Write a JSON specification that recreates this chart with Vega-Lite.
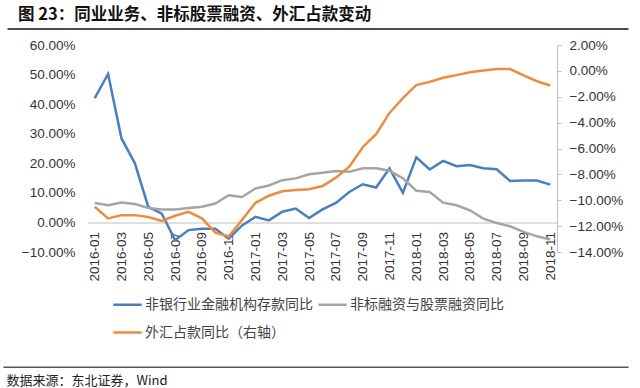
{
  "$schema": "https://vega.github.io/schema/vega-lite/v6.json",
  "width": 469,
  "height": 207,
  "autosize": "none",
  "padding": {"left": 88, "top": 45, "right": 83, "bottom": 136},
  "background": "white",
  "config": {"view": {"stroke": null}, "font": "Liberation Sans"},
  "title": {
    "text": "图 23：同业业务、非标股票融资、外汇占款变动",
    "anchor": "start",
    "frame": "group",
    "dx": -70,
    "dy": 10,
    "offset": 7,
    "baseline": "middle",
    "fontSize": 16.5,
    "fontWeight": "bold",
    "font": "Noto Sans CJK SC",
    "color": "#111111"
  },
  "data": {
    "values": [
      {"month": "2016-01", "series": "非银行业金融机构存款同比", "value": 42.0},
      {"month": "2016-02", "series": "非银行业金融机构存款同比", "value": 50.2},
      {"month": "2016-03", "series": "非银行业金融机构存款同比", "value": 28.4},
      {"month": "2016-04", "series": "非银行业金融机构存款同比", "value": 20.0},
      {"month": "2016-05", "series": "非银行业金融机构存款同比", "value": 5.3},
      {"month": "2016-06", "series": "非银行业金融机构存款同比", "value": 3.0},
      {"month": "2016-07", "series": "非银行业金融机构存款同比", "value": -6.0},
      {"month": "2016-08", "series": "非银行业金融机构存款同比", "value": -2.6},
      {"month": "2016-09", "series": "非银行业金融机构存款同比", "value": -2.1},
      {"month": "2016-10", "series": "非银行业金融机构存款同比", "value": -2.1},
      {"month": "2016-11", "series": "非银行业金融机构存款同比", "value": -5.5},
      {"month": "2016-12", "series": "非银行业金融机构存款同比", "value": -1.0},
      {"month": "2017-01", "series": "非银行业金融机构存款同比", "value": 1.9},
      {"month": "2017-02", "series": "非银行业金融机构存款同比", "value": 0.7},
      {"month": "2017-03", "series": "非银行业金融机构存款同比", "value": 3.6},
      {"month": "2017-04", "series": "非银行业金融机构存款同比", "value": 4.7},
      {"month": "2017-05", "series": "非银行业金融机构存款同比", "value": 1.5},
      {"month": "2017-06", "series": "非银行业金融机构存款同比", "value": 4.4},
      {"month": "2017-07", "series": "非银行业金融机构存款同比", "value": 6.6},
      {"month": "2017-08", "series": "非银行业金融机构存款同比", "value": 10.3},
      {"month": "2017-09", "series": "非银行业金融机构存款同比", "value": 12.9},
      {"month": "2017-10", "series": "非银行业金融机构存款同比", "value": 11.8},
      {"month": "2017-11", "series": "非银行业金融机构存款同比", "value": 18.3},
      {"month": "2017-12", "series": "非银行业金融机构存款同比", "value": 10.0},
      {"month": "2018-01", "series": "非银行业金融机构存款同比", "value": 22.0},
      {"month": "2018-02", "series": "非银行业金融机构存款同比", "value": 17.9},
      {"month": "2018-03", "series": "非银行业金融机构存款同比", "value": 20.8},
      {"month": "2018-04", "series": "非银行业金融机构存款同比", "value": 19.0},
      {"month": "2018-05", "series": "非银行业金融机构存款同比", "value": 19.4},
      {"month": "2018-06", "series": "非银行业金融机构存款同比", "value": 18.3},
      {"month": "2018-07", "series": "非银行业金融机构存款同比", "value": 18.0},
      {"month": "2018-08", "series": "非银行业金融机构存款同比", "value": 14.0},
      {"month": "2018-09", "series": "非银行业金融机构存款同比", "value": 14.2},
      {"month": "2018-10", "series": "非银行业金融机构存款同比", "value": 14.2},
      {"month": "2018-11", "series": "非银行业金融机构存款同比", "value": 12.8},
      {"month": "2016-01", "series": "非标融资与股票融资同比", "value": 6.6},
      {"month": "2016-02", "series": "非标融资与股票融资同比", "value": 5.8},
      {"month": "2016-03", "series": "非标融资与股票融资同比", "value": 6.7},
      {"month": "2016-04", "series": "非标融资与股票融资同比", "value": 6.2},
      {"month": "2016-05", "series": "非标融资与股票融资同比", "value": 4.9},
      {"month": "2016-06", "series": "非标融资与股票融资同比", "value": 4.4},
      {"month": "2016-07", "series": "非标融资与股票融资同比", "value": 4.4},
      {"month": "2016-08", "series": "非标融资与股票融资同比", "value": 4.9},
      {"month": "2016-09", "series": "非标融资与股票融资同比", "value": 5.3},
      {"month": "2016-10", "series": "非标融资与股票融资同比", "value": 6.4},
      {"month": "2016-11", "series": "非标融资与股票融资同比", "value": 9.2},
      {"month": "2016-12", "series": "非标融资与股票融资同比", "value": 8.6},
      {"month": "2017-01", "series": "非标融资与股票融资同比", "value": 11.5},
      {"month": "2017-02", "series": "非标融资与股票融资同比", "value": 12.5},
      {"month": "2017-03", "series": "非标融资与股票融资同比", "value": 14.3},
      {"month": "2017-04", "series": "非标融资与股票融资同比", "value": 14.9},
      {"month": "2017-05", "series": "非标融资与股票融资同比", "value": 16.3},
      {"month": "2017-06", "series": "非标融资与股票融资同比", "value": 16.8},
      {"month": "2017-07", "series": "非标融资与股票融资同比", "value": 17.4},
      {"month": "2017-08", "series": "非标融资与股票融资同比", "value": 17.1},
      {"month": "2017-09", "series": "非标融资与股票融资同比", "value": 18.3},
      {"month": "2017-10", "series": "非标融资与股票融资同比", "value": 18.3},
      {"month": "2017-11", "series": "非标融资与股票融资同比", "value": 17.5},
      {"month": "2017-12", "series": "非标融资与股票融资同比", "value": 14.9},
      {"month": "2018-01", "series": "非标融资与股票融资同比", "value": 10.7},
      {"month": "2018-02", "series": "非标融资与股票融资同比", "value": 10.3},
      {"month": "2018-03", "series": "非标融资与股票融资同比", "value": 6.7},
      {"month": "2018-04", "series": "非标融资与股票融资同比", "value": 5.8},
      {"month": "2018-05", "series": "非标融资与股票融资同比", "value": 4.1},
      {"month": "2018-06", "series": "非标融资与股票融资同比", "value": 1.3},
      {"month": "2018-07", "series": "非标融资与股票融资同比", "value": -0.2},
      {"month": "2018-08", "series": "非标融资与股票融资同比", "value": -1.3},
      {"month": "2018-09", "series": "非标融资与股票融资同比", "value": -3.2},
      {"month": "2018-10", "series": "非标融资与股票融资同比", "value": -4.7},
      {"month": "2018-11", "series": "非标融资与股票融资同比", "value": -5.8},
      {"month": "2016-01", "series": "外汇占款同比（右轴）", "value": -10.5},
      {"month": "2016-02", "series": "外汇占款同比（右轴）", "value": -11.4},
      {"month": "2016-03", "series": "外汇占款同比（右轴）", "value": -11.15},
      {"month": "2016-04", "series": "外汇占款同比（右轴）", "value": -11.15},
      {"month": "2016-05", "series": "外汇占款同比（右轴）", "value": -11.3},
      {"month": "2016-06", "series": "外汇占款同比（右轴）", "value": -11.6},
      {"month": "2016-07", "series": "外汇占款同比（右轴）", "value": -11.2},
      {"month": "2016-08", "series": "外汇占款同比（右轴）", "value": -10.9},
      {"month": "2016-09", "series": "外汇占款同比（右轴）", "value": -11.4},
      {"month": "2016-10", "series": "外汇占款同比（右轴）", "value": -12.5},
      {"month": "2016-11", "series": "外汇占款同比（右轴）", "value": -12.8},
      {"month": "2016-12", "series": "外汇占款同比（右轴）", "value": -11.5},
      {"month": "2017-01", "series": "外汇占款同比（右轴）", "value": -10.2},
      {"month": "2017-02", "series": "外汇占款同比（右轴）", "value": -9.65},
      {"month": "2017-03", "series": "外汇占款同比（右轴）", "value": -9.3},
      {"month": "2017-04", "series": "外汇占款同比（右轴）", "value": -9.2},
      {"month": "2017-05", "series": "外汇占款同比（右轴）", "value": -9.15},
      {"month": "2017-06", "series": "外汇占款同比（右轴）", "value": -8.9},
      {"month": "2017-07", "series": "外汇占款同比（右轴）", "value": -8.25},
      {"month": "2017-08", "series": "外汇占款同比（右轴）", "value": -7.4},
      {"month": "2017-09", "series": "外汇占款同比（右轴）", "value": -5.9},
      {"month": "2017-10", "series": "外汇占款同比（右轴）", "value": -4.9},
      {"month": "2017-11", "series": "外汇占款同比（右轴）", "value": -3.25},
      {"month": "2017-12", "series": "外汇占款同比（右轴）", "value": -2.1},
      {"month": "2018-01", "series": "外汇占款同比（右轴）", "value": -1.1},
      {"month": "2018-02", "series": "外汇占款同比（右轴）", "value": -0.85},
      {"month": "2018-03", "series": "外汇占款同比（右轴）", "value": -0.53},
      {"month": "2018-04", "series": "外汇占款同比（右轴）", "value": -0.33},
      {"month": "2018-05", "series": "外汇占款同比（右轴）", "value": -0.1},
      {"month": "2018-06", "series": "外汇占款同比（右轴）", "value": 0.03},
      {"month": "2018-07", "series": "外汇占款同比（右轴）", "value": 0.14},
      {"month": "2018-08", "series": "外汇占款同比（右轴）", "value": 0.14},
      {"month": "2018-09", "series": "外汇占款同比（右轴）", "value": -0.35},
      {"month": "2018-10", "series": "外汇占款同比（右轴）", "value": -0.8},
      {"month": "2018-11", "series": "外汇占款同比（右轴）", "value": -1.13}
    ]
  },
  "layer": [
    {
      "transform": [{"filter": "datum.series !== '外汇占款同比（右轴）'"}],
      "mark": {"type": "line", "strokeWidth": 2.5},
      "encoding": {
        "x": {
          "field": "month",
          "type": "ordinal",
          "sort": null,
          "scale": {"type": "point", "padding": 0.5, "domain": ["2016-01","2016-02","2016-03","2016-04","2016-05","2016-06","2016-07","2016-08","2016-09","2016-10","2016-11","2016-12","2017-01","2017-02","2017-03","2017-04","2017-05","2017-06","2017-07","2017-08","2017-09","2017-10","2017-11","2017-12","2018-01","2018-02","2018-03","2018-04","2018-05","2018-06","2018-07","2018-08","2018-09","2018-10","2018-11"]},
          "axis": {
            "offset": -29.5,
            "values": ["2016-01","2016-03","2016-05","2016-07","2016-09","2016-11","2017-01","2017-03","2017-05","2017-07","2017-09","2017-11","2018-01","2018-03","2018-05","2018-07","2018-09","2018-11"],
            "labelAngle": -90,
            "labelFontSize": 13.5,
            "labelColor": "#333333",
            "labelPadding": 9,
            "ticks": false,
            "domainColor": "#BFBFBF",
            "domainWidth": 1,
            "grid": false,
            "title": "数据来源：东北证券，Wind",
            "titleFont": "Noto Sans CJK SC",
            "titleFontWeight": "normal",
            "titleFontSize": 13,
            "titleColor": "#222222",
            "titleX": -82,
            "titleY": 158,
            "titleAlign": "left",
            "titleBaseline": "middle",
            "titleAngle": 0
          }
        },
        "y": {
          "field": "value",
          "type": "quantitative",
          "scale": {"domain": [-10, 60], "nice": false, "zero": false},
          "axis": {
            "values": [-10, 0, 10, 20, 30, 40, 50, 60],
            "labelExpr": "format(datum.value, '.2f') + '%'",
            "domain": false,
            "ticks": false,
            "grid": false,
            "labelFontSize": 13.5,
            "labelColor": "#333333",
            "labelPadding": 13,
            "title": null
          }
        },
        "color": {
          "field": "series",
          "type": "nominal",
          "scale": {
            "domain": ["非银行业金融机构存款同比", "非标融资与股票融资同比", "外汇占款同比（右轴）"],
            "range": ["#4A7EBF", "#A5A5A5", "#EE8B3C"]
          },
          "legend": {
            "orient": "none",
            "direction": "horizontal",
            "legendX": 24,
            "legendY": 244,
            "columns": 2,
            "title": null,
            "symbolType": "stroke",
            "symbolSize": 800,
            "symbolStrokeWidth": 2.5,
            "labelFont": "Noto Sans CJK SC",
            "labelFontSize": 14,
            "labelColor": "#444444",
            "labelOffset": 2,
            "columnPadding": 0,
            "rowPadding": 5,
            "labelLimit": 300
          }
        }
      }
    },
    {
      "transform": [{"filter": "datum.series === '外汇占款同比（右轴）'"}],
      "mark": {"type": "line", "strokeWidth": 2.5},
      "encoding": {
        "x": {
          "field": "month",
          "type": "ordinal",
          "sort": null,
          "scale": {"type": "point", "padding": 0.5, "domain": ["2016-01","2016-02","2016-03","2016-04","2016-05","2016-06","2016-07","2016-08","2016-09","2016-10","2016-11","2016-12","2017-01","2017-02","2017-03","2017-04","2017-05","2017-06","2017-07","2017-08","2017-09","2017-10","2017-11","2017-12","2018-01","2018-02","2018-03","2018-04","2018-05","2018-06","2018-07","2018-08","2018-09","2018-10","2018-11"]},
          "axis": null
        },
        "y": {
          "field": "value",
          "type": "quantitative",
          "scale": {"domain": [-14, 2], "nice": false, "zero": false},
          "axis": {
            "orient": "right",
            "values": [-14, -12, -10, -8, -6, -4, -2, 0, 2],
            "labelExpr": "format(datum.value, '.2f') + '%'",
            "domain": true,
            "domainColor": "#BFBFBF",
            "ticks": true,
            "tickSize": 4,
            "tickColor": "#BFBFBF",
            "grid": false,
            "labelFontSize": 13.5,
            "labelColor": "#333333",
            "labelPadding": 8,
            "title": null
          }
        },
        "color": {
          "field": "series",
          "type": "nominal",
          "scale": {
            "domain": ["非银行业金融机构存款同比", "非标融资与股票融资同比", "外汇占款同比（右轴）"],
            "range": ["#4A7EBF", "#A5A5A5", "#EE8B3C"]
          }
        }
      }
    },
    {
      "transform": [{"filter": "false"}],
      "mark": {"type": "point"},
      "encoding": {
        "x": {
          "field": "value",
          "type": "quantitative",
          "scale": {"domain": [0, 1], "range": [-81, 540], "nice": false, "zero": false},
          "axis": {
            "orient": "top",
            "offset": 16.5,
            "labels": false,
            "ticks": false,
            "grid": false,
            "domainColor": "#111111",
            "domainWidth": 1.5,
            "title": null
          }
        }
      }
    },
    {
      "transform": [{"filter": "false"}],
      "mark": {"type": "point"},
      "encoding": {
        "x": {
          "field": "value",
          "type": "quantitative",
          "scale": {"domain": [0, 1], "range": [-85, 540], "nice": false, "zero": false},
          "axis": {
            "orient": "bottom",
            "offset": 114.7,
            "labels": false,
            "ticks": false,
            "grid": false,
            "domainColor": "#555555",
            "domainWidth": 1.5,
            "title": null
          }
        }
      }
    }
  ],
  "resolve": {"scale": {"x": "independent", "y": "independent"}}
}
